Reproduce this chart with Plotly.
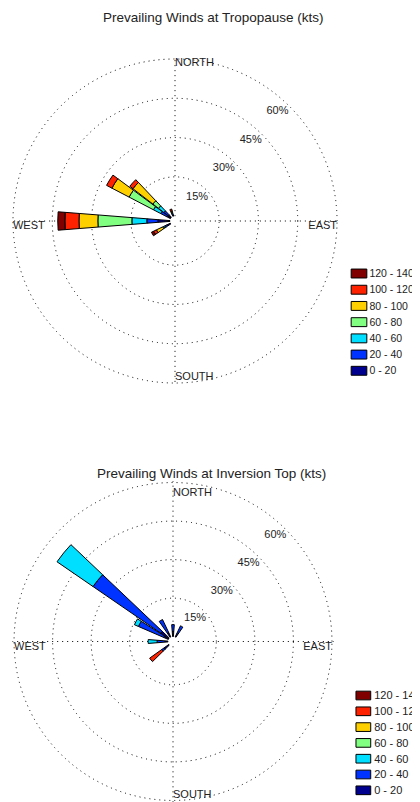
import plotly.graph_objects as go

# ---------------- data ----------------
bins = ["0 - 20", "20 - 40", "40 - 60", "60 - 80", "80 - 100", "100 - 120", "120 - 140"]
colors = ["#00008f", "#0033ff", "#00dfff", "#80ff80", "#ffd000", "#ff2200", "#800000"]

# Tropopause (percent of observations per direction, per speed bin)
trop_dirs = [240, 270, 302, 312, 340]
trop_0_20 = [1.5, 4.7, 1.4, 1.4, 0.6]
trop_20_40 = [1.0, 4.2, 2.9, 2.1, 0.6]
trop_40_60 = [0.5, 5.7, 3.1, 2.6, 0.3]
trop_60_80 = [0.4, 13.0, 10.5, 2.7, 0.3]
trop_80_100 = [2.6, 7.2, 7.4, 9.6, 0.3]
trop_100_120 = [1.2, 5.4, 2.3, 1.5, 0.8]
trop_120_140 = [0.9, 2.7, 0.0, 0.0, 0.0]

# Inversion top
inv_dirs = [0, 30, 230, 270, 298, 309, 330]
inv_0_20 = [2.0, 1.5, 2.5, 1.2, 2.0, 3.9, 2.0]
inv_20_40 = [2.7, 3.4, 1.0, 3.1, 10.8, 32.0, 5.6]
inv_40_60 = [0.0, 0.0, 0.0, 3.5, 1.7, 17.0, 0.0]
inv_60_80 = [0.0, 0.0, 0.0, 0.0, 0.0, 0.0, 0.0]
inv_80_100 = [0.0, 0.0, 0.0, 0.0, 0.0, 0.0, 0.0]
inv_100_120 = [0.0, 0.0, 5.8, 0.0, 0.0, 0.0, 0.0]
inv_120_140 = [0.0, 0.0, 0.0, 0.0, 0.0, 0.0, 0.0]

ring_vals = [15, 30, 45, 60]
ring_labels = ["15%", "30%", "45%", "60%"]
compass_names = ["NORTH", "EAST", "SOUTH", "WEST"]
compass_theta = [0, 90, 180, 270]

titles = ["Prevailing Winds at Tropopause (kts)", "Prevailing Winds at Inversion Top (kts)"]

trop_series = [trop_0_20, trop_20_40, trop_40_60, trop_60_80, trop_80_100, trop_100_120, trop_120_140]
inv_series = [inv_0_20, inv_20_40, inv_40_60, inv_60_80, inv_80_100, inv_100_120, inv_120_140]

FONT = "Liberation Sans"
TXT = "#222222"
R_MAX = 60.6  # radial range end (keeps the 60% ring drawn)

# page body has an 8px margin: build the figure in window pixels and shift
OFF = 8
WIN_W, WIN_H = 420, 802
W, H = WIN_W - OFF, WIN_H - OFF


def px(X):
    return (X - OFF) / W


def py(Y):
    return 1 - (Y - OFF) / H


fig = go.Figure()


def add_rose(subplot, dirs, series, compass_r, label_theta):
    for name, col, vals in zip(bins, colors, series):
        fig.add_trace(go.Barpolar(
            r=[v if v > 0 else None for v in vals],
            theta=dirs,
            width=9,
            name=name,
            marker=dict(color=col, line=dict(color="black", width=1)),
            showlegend=False,
            subplot=subplot,
            hoverinfo="skip",
        ))
    # ring labels
    fig.add_trace(go.Scatterpolar(
        r=[v - 4.5 for v in ring_vals],
        theta=[label_theta] * len(ring_vals),
        mode="text",
        text=ring_labels,
        textposition="middle center",
        textfont=dict(family=FONT, size=11, color=TXT),
        showlegend=False,
        subplot=subplot,
        hoverinfo="skip",
    ))
    # compass labels
    fig.add_trace(go.Scatterpolar(
        r=compass_r,
        theta=compass_theta,
        mode="text",
        text=compass_names,
        textposition=["middle right", "bottom left", "top right", "bottom right"],
        textfont=dict(family=FONT, size=11, color=TXT),
        showlegend=False,
        subplot=subplot,
        hoverinfo="skip",
        cliponaxis=False,
    ))


add_rose("polar", trop_dirs, trop_series, [58.5, 60, 60, 60], 43)
add_rose("polar2", inv_dirs, inv_series, [56, 60, 60, 60], 44)


def add_legend(xa, ya):
    for name, col in zip(bins, colors):
        fig.add_trace(go.Bar(
            x=[1], y=[name], orientation="h", width=0.55,
            marker=dict(color=col, line=dict(color="black", width=1)),
            xaxis=xa, yaxis=ya, showlegend=False, hoverinfo="skip",
        ))


add_legend("x", "y")
add_legend("x2", "y2")


def polar_layout(cx, cy, R, hole):
    return dict(
        domain=dict(x=[px(cx - R), px(cx + R)],
                    y=[max(0.0, py(cy + R)), min(1.0, py(cy - R))]),
        bgcolor="white",
        hole=hole,
        barmode="stack",
        radialaxis=dict(
            range=[0, R_MAX], tickvals=ring_vals, showticklabels=False, ticks="",
            showline=False, showgrid=True, gridcolor="black", gridwidth=1,
            griddash="1px,4px", angle=90,
        ),
        angularaxis=dict(
            rotation=90, direction="clockwise", tickvals=compass_theta,
            showticklabels=False, ticks="", showline=False, showgrid=True,
            gridcolor="black", gridwidth=1, griddash="1px,4px",
        ),
    )


def legend_axes(xl, xr, yt, yb, standoff, fsize):
    xa = dict(domain=[px(xl), px(xr)], range=[-0.1, 1.1], visible=False, fixedrange=True)
    ya = dict(domain=[max(0.0, py(yb)), py(yt)], type="category", categoryorder="array",
              categoryarray=bins, side="right", showgrid=False, zeroline=False,
              showline=False, ticks="", ticklabelstandoff=standoff,
              tickfont=dict(family=FONT, size=fsize, color=TXT), fixedrange=True)
    return xa, ya


xa1, ya1 = legend_axes(349.6, 368.4, 265.4, 378.9, 0, 10.5)
xa2, ya2 = legend_axes(354.5, 372.2, 687.6, 798.2, 1, 11)
ya2["anchor"] = "x2"
xa2["anchor"] = "y2"

fig.update_layout(
    width=W, height=H,
    margin=dict(l=0, r=0, t=0, b=0),
    paper_bgcolor="white", plot_bgcolor="white",
    template="none",
    showlegend=False,
    polar=polar_layout(175, 221, 163.6, 0.0297),
    polar2=polar_layout(173, 641.5, 160.5, 0.03),
    xaxis=xa1, yaxis=ya1, xaxis2=xa2, yaxis2=ya2,
    annotations=[
        dict(text=titles[0], x=px(213), y=py(18), xref="paper", yref="paper",
             xanchor="center", yanchor="middle",
             showarrow=False, font=dict(family=FONT, size=13.5, color=TXT)),
        dict(text=titles[1], x=px(211), y=py(473), xref="paper", yref="paper",
             xanchor="center", yanchor="middle",
             showarrow=False, font=dict(family=FONT, size=13.5, color=TXT)),
    ],
)

fig.write_html("out.html")
